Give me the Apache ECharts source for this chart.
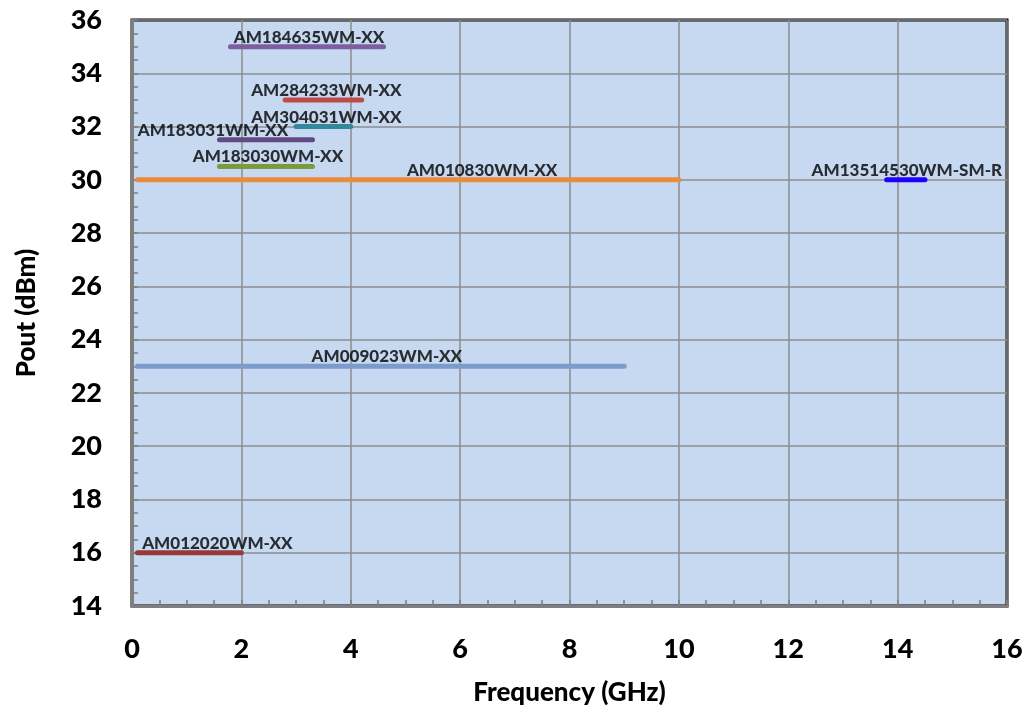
<!DOCTYPE html>
<html>
<head>
<meta charset="utf-8">
<script src="https://cdn.jsdelivr.net/npm/echarts@6/dist/echarts.min.js"></script>
<style>
html,body{margin:0;padding:0;background:#fff;}
#chart{width:1031px;height:711px;}
</style>
</head>
<body>
<div id="chart"></div>
<script>
// ---- data ----
const products = ['AM012020WM-XX', 'AM009023WM-XX', 'AM010830WM-XX', 'AM183030WM-XX', 'AM183031WM-XX', 'AM304031WM-XX', 'AM284233WM-XX', 'AM184635WM-XX', 'AM13514530WM-SM-R'];
const freqStart = [0.1, 0.1, 0.1, 1.6, 1.6, 3.0, 2.8, 1.8, 13.8];
const freqStop  = [2.0, 9.0, 10.0, 3.3, 3.3, 4.0, 4.2, 4.6, 14.5];
const pout      = [16, 23, 30, 30.5, 31.5, 32, 33, 35, 30];
const xTicks = [0, 2, 4, 6, 8, 10, 12, 14, 16];
const yTicks = [14, 16, 18, 20, 22, 24, 26, 28, 30, 32, 34, 36];

// ---- styles ----
const colors = ['#993838', '#7b9bcb', '#e98a3c', '#7a9a3c', '#624a82', '#33889e', '#be4b48', '#7d5fa0', '#2200ff'];
const labelDx = [28, 6, 74, 2, -53, 3, 3, 2, 1];
const FONT = 'Lato';

const series = [];
products.forEach((name, i) => {
  series.push({
    name: name,
    type: 'line',
    data: [[freqStart[i], pout[i]], [freqStop[i], pout[i]]],
    symbol: 'none',
    lineStyle: { color: colors[i], width: 5, cap: 'round' },
    silent: true,
    z: 3
  });
  series.push({
    name: name + ' label',
    type: 'scatter',
    data: [[(freqStart[i] + freqStop[i]) / 2, pout[i]]],
    symbolSize: 0,
    silent: true,
    z: 4,
    label: {
      show: true,
      position: 'top',
      distance: 1,
      offset: [labelDx[i], 0],
      formatter: () => name,
      color: '#000',
      fontFamily: FONT,
      fontWeight: 900,
      fontSize: 17
    }
  });
});

const chart = echarts.init(document.getElementById('chart'), null, { renderer: 'canvas' });
chart.setOption({
  animation: false,
  backgroundColor: '#ffffff',
  grid: {
    left: 132, right: 24, top: 20, bottom: 105,
    show: true,
    backgroundColor: '#c6d9f1',
    borderColor: '#000000',
    borderWidth: 3
  },
  xAxis: {
    type: 'value',
    min: xTicks[0], max: xTicks[xTicks.length - 1], interval: 2,
    name: 'Frequency (GHz)',
    nameLocation: 'middle',
    nameGap: 74,
    nameTextStyle: { fontFamily: FONT, fontWeight: 900, fontSize: 26, color: '#000' },
    axisLine: { show: true, lineStyle: { color: '#7f7f7f', width: 3 } },
    axisTick: { show: true, inside: true, length: 6, lineStyle: { color: '#7f7f7f', width: 1.5 } },
    minorTick: { show: true, splitNumber: 4, length: 6, lineStyle: { color: '#7f7f7f', width: 1.5 } },
    splitLine: { show: true, lineStyle: { color: '#8c8c8c', width: 1.5 } },
    axisLabel: { fontFamily: FONT, fontWeight: 900, fontSize: 27, color: '#000', margin: 30 }
  },
  yAxis: {
    type: 'value',
    min: yTicks[0], max: yTicks[yTicks.length - 1], interval: 2,
    name: 'Pout (dBm)',
    nameLocation: 'middle',
    nameGap: 92,
    nameTextStyle: { fontFamily: FONT, fontWeight: 900, fontSize: 26, color: '#000' },
    axisLine: { show: true, lineStyle: { color: '#7f7f7f', width: 3 } },
    axisTick: { show: true, inside: true, length: 6, lineStyle: { color: '#7f7f7f', width: 1.5 } },
    minorTick: { show: true, splitNumber: 4, length: 6, lineStyle: { color: '#7f7f7f', width: 1.5 } },
    splitLine: { show: true, lineStyle: { color: '#8c8c8c', width: 1.5 } },
    axisLabel: { fontFamily: FONT, fontWeight: 900, fontSize: 27, color: '#000', margin: 30 }
  },
  series: series
});
</script>
</body>
</html>
